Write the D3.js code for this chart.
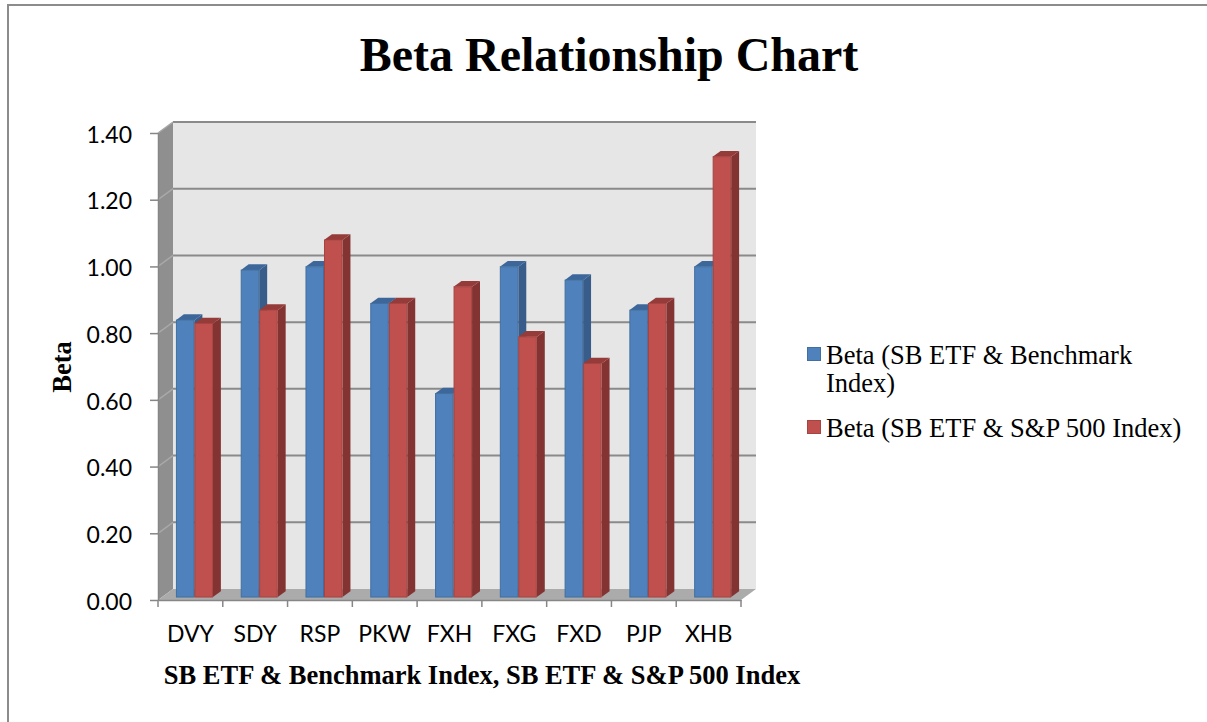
<!DOCTYPE html>
<html>
<head>
<meta charset="utf-8">
<script src="https://cdn.jsdelivr.net/npm/d3@7/dist/d3.min.js"></script>
<style>
  body { margin: 0; background: #fff; }
  svg { display: block; }
</style>
</head>
<body>
<script>
// values
const categories = ["DVY", "SDY", "RSP", "PKW", "FXH", "FXG", "FXD", "PJP", "XHB"]
const benchmarkBeta = [0.83, 0.98, 0.99, 0.88, 0.61, 0.99, 0.95, 0.86, 0.99]
const sp500Beta = [0.82, 0.86, 1.07, 0.88, 0.93, 0.78, 0.70, 0.88, 1.32]
const yTicks = [0, 0.2, 0.4, 0.6, 0.8, 1.0, 1.2, 1.4]
const seriesNames = ["Beta (SB ETF & Benchmark Index)", "Beta (SB ETF & S&P 500 Index)"]

const W = 1207, H = 722
const plot = {left: 158, right: 741, top: 133, bottom: 600}
const depth = {dx: 15, dy: -11}   // back wall offset
const barFront = 0.27, barDepth = 0.53

const colors = [
  {front: "#4f81bd", side: "#385d8a", top: "#3d679a", edge: "#41709f"},
  {front: "#c0504d", side: "#833432", top: "#953b39", edge: "#a54441"}
]

const svg = d3.select("body").append("svg")
  .attr("width", W).attr("height", H)

// outer border (only top and left show in the crop)
svg.append("path")
  .attr("d", `M8,${H}V5H${W}`)
  .attr("fill", "none").attr("stroke", "#8c8c8c").attr("stroke-width", 2)

const y = d3.scaleLinear().domain([0, 1.4]).range([plot.bottom, plot.top])
const x = d3.scaleBand().domain(categories).range([plot.left, plot.right]).paddingInner(0).paddingOuter(0)
const xs = d3.scaleBand().domain([0, 1]).range([0, x.bandwidth()]).paddingInner(0).paddingOuter(0.75)

const P = (px, py, d) => [px + depth.dx * d, py + depth.dy * d]
const poly = pts => "M" + pts.map(p => p.join(",")).join("L") + "Z"

// walls
svg.append("path")
  .attr("d", poly([P(plot.left, plot.top, 1), P(plot.right, plot.top, 1), P(plot.right, plot.bottom, 1), P(plot.left, plot.bottom, 1)]))
  .attr("fill", "#e6e6e6")
svg.append("path")
  .attr("d", poly([[plot.left, plot.top], P(plot.left, plot.top, 1), P(plot.left, plot.bottom, 1), [plot.left, plot.bottom]]))
  .attr("fill", "#8f8f8f")
svg.append("path")
  .attr("d", poly([[plot.left, plot.bottom], [plot.right, plot.bottom], P(plot.right, plot.bottom, 1), P(plot.left, plot.bottom, 1)]))
  .attr("fill", "#ababab")

// gridlines: back wall + side wall
const grid = svg.append("g").attr("fill", "none")
grid.selectAll("path.back")
  .data(yTicks.filter(v => v > 0))
  .join("path")
    .attr("class", "back")
    .attr("d", v => `M${P(plot.left, y(v), 1)}L${P(plot.right, y(v), 1)}`)
    .attr("stroke", "#8a8a8a").attr("stroke-width", 2)
grid.selectAll("path.side")
  .data(yTicks.filter(v => v > 0))
  .join("path")
    .attr("class", "side")
    .attr("d", v => `M${plot.left},${y(v)}L${P(plot.left, y(v), 1)}`)
    .attr("stroke", "#a8a8a8").attr("stroke-width", 1.5)

// bars
const series = [benchmarkBeta, sp500Beta]
const bars = svg.append("g")
categories.forEach((c, i) => {
  series.forEach((vals, s) => {
    const col = colors[s]
    const [x0, yb] = P(x(c) + xs(s), y(0), barFront)
    const x1 = x0 + xs.bandwidth()
    const yt = y(vals[i]) + depth.dy * barFront
    const ddx = depth.dx * barDepth, ddy = depth.dy * barDepth
    const g = bars.append("g")
    g.append("path")
      .attr("d", poly([[x1, yt], [x1 + ddx, yt + ddy], [x1 + ddx, yb + ddy], [x1, yb]]))
      .attr("fill", col.side)
    g.append("path")
      .attr("d", poly([[x0, yt], [x1, yt], [x1 + ddx, yt + ddy], [x0 + ddx, yt + ddy]]))
      .attr("fill", col.top)
    g.append("rect")
      .attr("x", x0 + 0.5).attr("y", yt)
      .attr("width", x1 - x0 - 1).attr("height", yb - yt)
      .attr("fill", col.front).attr("stroke", col.edge).attr("stroke-width", 1)
  })
})

// axes
const yAxis = svg.append("g")
  .attr("transform", `translate(${plot.left},0)`)
  .call(d3.axisLeft(y).tickValues(yTicks).tickFormat(d3.format(".2f")).tickSize(8).tickSizeOuter(0).tickPadding(18))
yAxis.select(".domain").attr("stroke", "#868686").attr("stroke-width", 1.5)
yAxis.selectAll(".tick line").attr("stroke", "#868686").attr("stroke-width", 1.5)
yAxis.selectAll(".tick text")
  .attr("font-family", "Lato, 'Open Sans', sans-serif").attr("font-size", 23)
  .attr("fill", "#000").attr("dy", "0.4em")

const xAxis = svg.append("g")
  .attr("transform", `translate(0,${plot.bottom})`)
  .call(d3.axisBottom(x).tickSize(0).tickSizeOuter(0).tickPadding(26))
xAxis.select(".domain").attr("stroke", "#868686").attr("stroke-width", 1.5)
xAxis.selectAll(".tick text")
  .attr("font-family", "Lato, 'Open Sans', sans-serif").attr("font-size", 23).attr("fill", "#000")
xAxis.selectAll("line.sep")
  .data(d3.range(categories.length + 1))
  .join("line")
    .attr("class", "sep")
    .attr("x1", i => plot.left + i * x.step()).attr("x2", i => plot.left + i * x.step())
    .attr("y1", 0).attr("y2", 7)
    .attr("stroke", "#868686").attr("stroke-width", 1.5)

// titles
svg.append("text")
  .attr("x", 609).attr("y", 71)
  .attr("text-anchor", "middle")
  .attr("font-family", "'Liberation Serif', 'Times New Roman', serif")
  .attr("font-weight", "bold").attr("font-size", 48)
  .text("Beta Relationship Chart")

svg.append("text")
  .attr("x", 482).attr("y", 684)
  .attr("text-anchor", "middle")
  .attr("font-family", "'Liberation Serif', 'Times New Roman', serif")
  .attr("font-weight", "bold").attr("font-size", 26.5)
  .text("SB ETF & Benchmark Index, SB ETF & S&P 500 Index")

svg.append("text")
  .attr("transform", "translate(71,367) rotate(-90)")
  .attr("text-anchor", "middle")
  .attr("font-family", "'Liberation Serif', 'Times New Roman', serif")
  .attr("font-weight", "bold").attr("font-size", 26.5)
  .text("Beta")

// legend
const legendRows = [
  {lines: ["Beta (SB ETF & Benchmark", "Index)"], y: 364},
  {lines: ["Beta (SB ETF & S&P 500 Index)"], y: 437}
]
const legend = svg.append("g")
  .attr("font-family", "'Liberation Serif', 'Times New Roman', serif")
  .attr("font-size", 26.5)
legendRows.forEach((r, s) => {
  legend.append("rect")
    .attr("x", 807.5).attr("y", r.y - 16.5).attr("width", 13).attr("height", 13)
    .attr("fill", colors[s].front).attr("stroke", colors[s].edge).attr("stroke-width", 1)
  const t = legend.append("text").attr("x", 826).attr("y", r.y)
  t.selectAll("tspan")
    .data(r.lines)
    .join("tspan")
      .attr("x", 826).attr("dy", (d, i) => i ? 28 : 0)
      .text(d => d)
})
</script>
</body>
</html>
